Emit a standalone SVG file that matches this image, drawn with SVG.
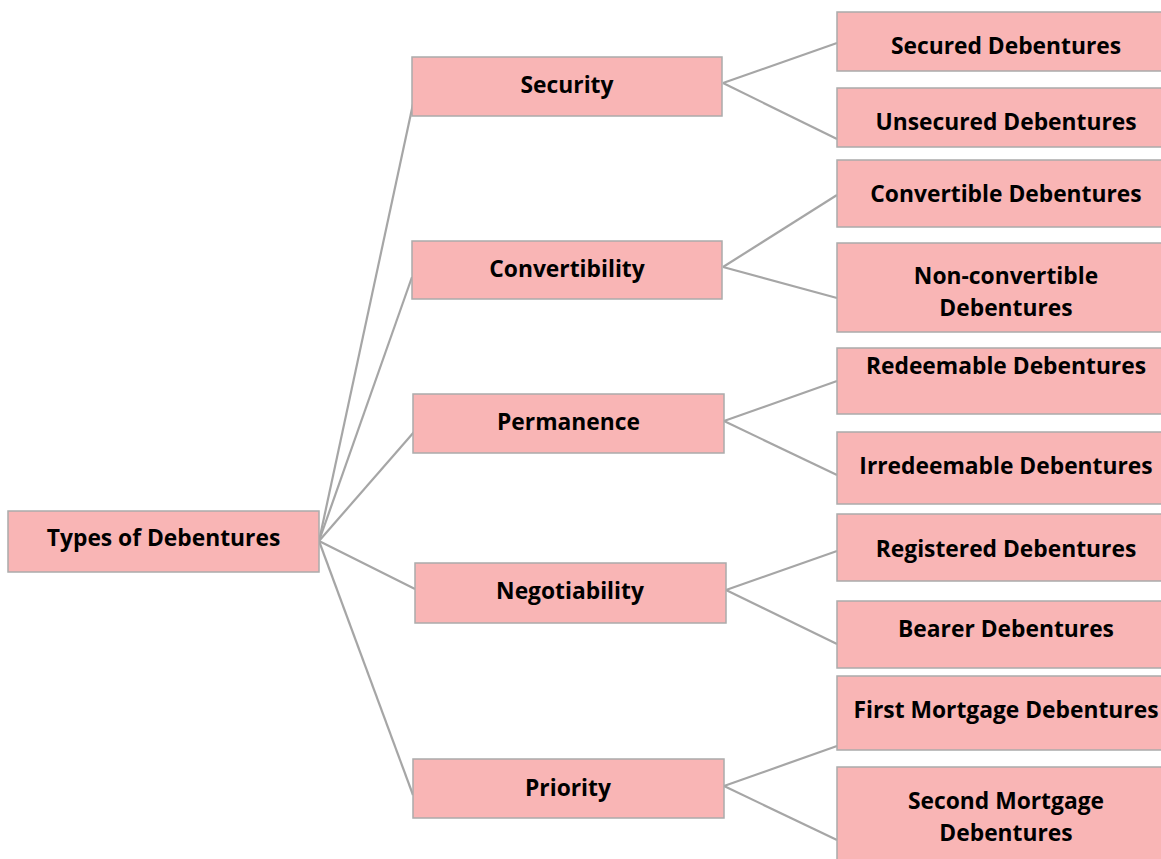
<svg xmlns="http://www.w3.org/2000/svg" width="1161" height="859" viewBox="0 0 1161 859">
<style>
.box{fill:#F9B5B5;stroke:#ABABAB;stroke-width:1.5}
.t{font-family:"Open Sans","Noto Sans","DejaVu Sans",sans-serif;font-weight:bold;font-size:22.8px;fill:#000;text-anchor:middle}
.c{stroke:#A6A6A6;stroke-width:2.2;fill:none}
</style>
<rect width="1161" height="859" fill="#fff"/>
<g id="connectors">
<line class="c" x1="319" y1="541" x2="413" y2="104"/>
<line class="c" x1="319" y1="541" x2="412" y2="277"/>
<line class="c" x1="319" y1="541" x2="414" y2="432"/>
<line class="c" x1="319" y1="541" x2="415" y2="589"/>
<line class="c" x1="319" y1="541" x2="413" y2="795"/>
<line class="c" x1="723" y1="83" x2="837" y2="43"/>
<line class="c" x1="723" y1="83" x2="837" y2="139"/>
<line class="c" x1="723" y1="267" x2="837" y2="195"/>
<line class="c" x1="723" y1="267" x2="837" y2="298"/>
<line class="c" x1="724" y1="421" x2="837" y2="381"/>
<line class="c" x1="724" y1="421" x2="837" y2="475"/>
<line class="c" x1="726" y1="590" x2="837" y2="551"/>
<line class="c" x1="726" y1="590" x2="837" y2="644"/>
<line class="c" x1="724" y1="786" x2="837" y2="746"/>
<line class="c" x1="724" y1="786" x2="837" y2="840"/>
</g>
<g id="root"><rect class="box" x="8" y="511" width="311" height="61"/><text class="t" x="163.5" y="546">Types of Debentures</text></g>
<g id="security"><rect class="box" x="412" y="57" width="310" height="59"/><text class="t" x="567" y="93">Security</text></g>
<g id="convertibility"><rect class="box" x="412" y="241" width="310" height="58"/><text class="t" x="567" y="277">Convertibility</text></g>
<g id="permanence"><rect class="box" x="413" y="394" width="311" height="59"/><text class="t" x="568.5" y="430">Permanence</text></g>
<g id="negotiability"><rect class="box" x="415" y="563" width="311" height="60"/><text class="t" x="570" y="599">Negotiability</text></g>
<g id="priority"><rect class="box" x="413" y="759" width="311" height="59"/><text class="t" x="568" y="796">Priority</text></g>
<g id="secured"><rect class="box" x="837" y="12" width="340" height="59"/><text class="t" x="1006" y="54">Secured Debentures</text></g>
<g id="unsecured"><rect class="box" x="837" y="88" width="340" height="59"/><text class="t" x="1006" y="130">Unsecured Debentures</text></g>
<g id="convertible"><rect class="box" x="837" y="160" width="340" height="67"/><text class="t" x="1006" y="202">Convertible Debentures</text></g>
<g id="nonconvertible"><rect class="box" x="837" y="243" width="340" height="89"/><text class="t" x="1006" y="284">Non-convertible</text><text class="t" x="1006" y="316">Debentures</text></g>
<g id="redeemable"><rect class="box" x="837" y="348" width="340" height="66"/><text class="t" x="1006" y="374">Redeemable Debentures</text></g>
<g id="irredeemable"><rect class="box" x="837" y="432" width="340" height="72"/><text class="t" x="1006" y="474">Irredeemable Debentures</text></g>
<g id="registered"><rect class="box" x="837" y="514" width="340" height="67"/><text class="t" x="1006" y="557">Registered Debentures</text></g>
<g id="bearer"><rect class="box" x="837" y="601" width="340" height="67"/><text class="t" x="1006" y="637">Bearer Debentures</text></g>
<g id="firstmortgage"><rect class="box" x="837" y="676" width="340" height="74"/><text class="t" x="1006" y="718">First Mortgage Debentures</text></g>
<g id="secondmortgage"><rect class="box" x="837" y="767" width="340" height="110"/><text class="t" x="1006" y="809">Second Mortgage</text><text class="t" x="1006" y="841">Debentures</text></g>
</svg>
